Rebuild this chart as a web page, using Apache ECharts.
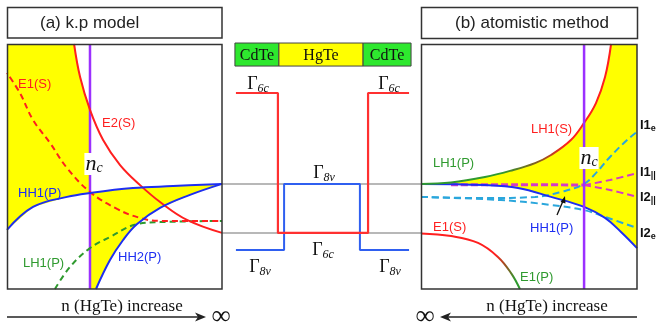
<!DOCTYPE html>
<html><head><meta charset="utf-8">
<script src="https://cdn.jsdelivr.net/npm/echarts@6/dist/echarts.min.js"></script>
<style>html,body{margin:0;padding:0;background:#fff}#c{width:656px;height:325px}</style>
</head><body><div id="c"></div>
<script>
// ---------- data (panel units: x 0-100 along n(HgTe), y 0-100 energy) ----------
// (a) k.p model
const kpNc = 38.6;
const kpE1S = [[0,88.2],[6.0,80.0],[12.1,69.0],[20.0,59.6],[27.9,49.4],[38.6,39.6],[51.2,32.7],[61.9,29.0],[71.2,27.8],[100,27.8]];
const kpE2S = [[31.2,100],[34.0,86.5],[38.6,73.1],[44.7,60.8],[52.6,50.6],[61.9,42.4],[71.2,35.5],[83.7,28.2],[100,22.9]];
const kpHH1 = [[0,24.1],[12.1,33.5],[27.9,37.6],[38.6,39.2],[58.6,41.2],[77.2,42.0],[100,42.9]];
const kpHH2 = [[41.4,0],[47.9,11.8],[54.0,20.0],[60.5,26.5],[71.2,33.1],[85.1,38.4],[100,42.9]];
const kpLH1 = [[22.3,0],[29.3,9.0],[38.6,16.7],[47.9,21.2],[60.5,26.5],[71.2,27.3],[100,27.8]];
// middle: quantum well band edges
const layers = [['CdTe',6.5,28.6,'#2ee82e'],['HgTe',28.6,70.9,'#ffff00'],['CdTe',70.9,95.0,'#2ee82e']];
const layerTop = 100.4, layerBottom = 91.0;
const bandG6c = [[7.0,80],[28.1,80],[28.1,22.9],[73.4,22.9],[73.4,80],[94.0,80]];
const bandG8v = [[7.0,15.9],[31.2,15.9],[31.2,42.9],[69.3,42.9],[69.3,15.9],[94.0,15.9]];
const guideUpper = [[0,42.9],[100,42.9]];
const guideLower = [[0,22.9],[100,22.9]];
// (b) atomistic method
const atNc = 75.5;
const atLH1 = [[0,42.9],[13.9,43.5],[29.6,45.7],[41.2,48.2],[52.8,51.4],[60.2,54.7],[69.4,60.8],[75.5,67.8],[81.0,75.9],[85.2,86.5],[88.0,100]];
const atHH1 = [[0,42.9],[29.6,42.4],[44.9,41.2],[60.2,37.6],[75.5,33.5],[85.2,29.0],[92.6,23.3],[100,16.7]];
const atI1e = [[0,37.6],[29.6,37.1],[52.8,37.6],[64.8,39.6],[75.5,42.9],[81.5,47.8],[87.5,53.9],[95.4,60.8],[100,64.1]];
const atI2e = [[0,37.6],[37.0,36.3],[60.2,34.3],[75.5,32.2],[85.2,29.4],[100,24.9]];
const atIhh = [[13.9,42.6],[45,42.6],[75.5,42.4]];
const atI1hh = [[75.5,42.4],[87.5,44.5],[100,47.3]];
const atI2hh = [[75.5,42.4],[87.5,40.4],[100,37.6]];
const atE1 = [[0,22.7],[13.9,21.6],[26.4,18.8],[35.6,13.1],[41.7,6.5],[45.8,0]];

// ---------- styling ----------
const RED='#ff1f1f', BLUE='#1d2ef2', GREEN='#2f9a2f', PURPLE='#9b30ff', CYAN='#2aa6dc',
      MAGENTA='#d43bc8', GRAY='#b8b8b8', YEL='#ffff00', BROWN='#8a5a22';
const SANS='"Liberation Sans", Arial, sans-serif', SERIF='"Liberation Serif", "Times New Roman", serif';

function ln(data, color, width, dash, gi, extra) {
  return Object.assign({type:'line', xAxisIndex:gi, yAxisIndex:gi, data, symbol:'none', smooth:0.4,
    silent:true, animation:false, lineStyle:{color, width, type: dash || 'solid'}}, extra || {});
}
function fill(pts, gi) {
  return {type:'custom', xAxisIndex:gi, yAxisIndex:gi, data:[0], silent:true, z:1, animation:false,
    renderItem:(p, api) => ({type:'polygon', shape:{points: pts.map(q => api.coord(q))}, style:{fill:YEL}})};
}
const upTo = (arr, x) => arr.filter(q => q[0] <= x);
const from = (arr, x) => arr.filter(q => q[0] >= x);

const kpFill1 = [[0,100]].concat(upTo(kpE2S, kpNc), upTo(kpHH1, kpNc).reverse());
const kpFill2 = from(kpHH1, kpNc).concat(kpHH2.slice().reverse(), [[kpNc,0]]);
const atFill = atLH1.concat([[100,100]], atHH1.slice().reverse());

const grad = (stops) => new echarts.graphic.LinearGradient(0,0,1,0, stops.map(s => ({offset:s[0], color:s[1]})));

const series = [
  // left panel
  fill(kpFill1, 0), fill(kpFill2, 0),
  ln([[kpNc,0],[kpNc,100]], PURPLE, 2.5, null, 0, {smooth:false}),
  ln(kpLH1, GREEN, 2, [6,4], 0),
  ln(kpE1S, RED, 2, [6,4], 0, {lineStyle:{color:RED, width:2, type:[6,4], dashOffset:5}}),
  ln(kpE2S, RED, 2, null, 0),
  ln(kpHH2, BLUE, 2, null, 0),
  ln(kpHH1, BLUE, 2, null, 0),
  // middle
  ln(guideUpper, GRAY, 2, null, 1, {smooth:false}),
  ln(guideLower, GRAY, 2, null, 1, {smooth:false}),
  {type:'custom', xAxisIndex:1, yAxisIndex:1, silent:true, animation:false,
    data: layers.map(l => [l[1], l[2]]),
    renderItem:(p, api) => {
      const l = layers[p.dataIndex];
      const a = api.coord([api.value(0), layerTop]), b = api.coord([api.value(1), layerBottom]);
      return {type:'group', children:[
        {type:'rect', shape:{x:a[0], y:a[1], width:b[0]-a[0], height:b[1]-a[1]}, style:{fill:l[3], stroke:'#444', lineWidth:1}},
        {type:'text', style:{text:l[0], x:(a[0]+b[0])/2, y:(a[1]+b[1])/2 + 1, align:'center', verticalAlign:'middle', font:'16px ' + SERIF, fill:'#111'}}
      ]};
    }},
  ln(bandG8v, '#2f5ff0', 2, null, 1, {smooth:false}),
  ln(bandG6c, '#ff3030', 2.2, null, 1, {smooth:false}),
  // right panel
  fill(atFill, 2),
  ln(atI2e, CYAN, 2, [7,4], 2),
  ln(atI1e, CYAN, 2, [7,4], 2),
  ln(atIhh, MAGENTA, 3, [7,3], 2),
  ln(atI1hh, MAGENTA, 2, [7,4], 2),
  ln(atI2hh, MAGENTA, 2, [7,4], 2),
  ln(atHH1, BLUE, 2, null, 2),
  ln(atLH1, RED, 2, null, 2, {lineStyle:{width:2, color: grad([[0,GREEN],[0.42,GREEN],[0.62,BROWN],[0.76,RED],[1,RED]])}}),
  ln(atE1, RED, 2, null, 2, {lineStyle:{width:2, color: grad([[0,RED],[0.74,RED],[0.85,BROWN],[0.93,GREEN],[1,GREEN]])}}),
  ln([[atNc,0],[atNc,100]], PURPLE, 2.5, null, 2, {smooth:false})
];

// ---------- annotations ----------
const T = (text, x, y, color, opt) => Object.assign({type:'text', z:100, silent:true,
  style:Object.assign({text, x, y, fill:color, font:'13px ' + SANS, align:'left', verticalAlign:'middle'}, (opt||{}).style || {})}, (opt||{}).el || {});
const gam = (main, sub, x, y) => ({type:'text', z:100, silent:true, style:{text:'{m|' + main + '}{s|' + sub + '}', x, y, align:'center', verticalAlign:'middle',
  rich:{m:{font:'18px ' + SERIF, fill:'#111'}, s:{font:'italic 12px ' + SERIF, fill:'#111', padding:[9,0,0,0]}}}});
const nc = (x, y) => ({type:'text', z:100, silent:true, style:{text:'{n|n}{c|c}', x, y, align:'center', verticalAlign:'middle',
  backgroundColor:'#fff', padding:[0,1,0,1],
  rich:{n:{font:'italic 22px ' + SERIF, fill:'#111'}, c:{font:'italic 14px ' + SERIF, fill:'#111', padding:[8,0,0,0]}}}});
const isub = (main, sub, x, y) => ({type:'text', z:100, silent:true, style:{text:'{m|' + main + '}{s|' + sub + '}', x, y, align:'left', verticalAlign:'middle',
  rich:{m:{font:'bold 13px ' + SANS, fill:'#111'}, s:{font:'bold 9px ' + SANS, fill:'#111', padding:[8,0,0,0]}}}});
const box = (x, y, w, h) => ({type:'rect', z:90, silent:true, shape:{x, y, width:w, height:h}, style:{fill:'none', stroke:'#333', lineWidth:1.5}});
const arrowHead = (tipX, y, dir) => ({type:'polygon', z:100, silent:true,
  shape:{points:[[tipX,y],[tipX - dir*11, y-4.5],[tipX - dir*8, y],[tipX - dir*11, y+4.5]]}, style:{fill:'#222'}});

const graphic = [
  box(7.5, 7.5, 214.5, 30.5), box(421.5, 7.5, 216, 31),
  box(7.5, 44.5, 214.5, 244.5), box(421.5, 44.5, 215.5, 244.5),
  T('(a) k.p model', 40, 23, '#222', {style:{font:'17px ' + SANS}}),
  T('(b) atomistic method', 532, 23, '#222', {style:{font:'17px ' + SANS, align:'center'}}),
  T('E1(S)', 18, 84, RED), T('E2(S)', 102, 123, RED), T('HH1(P)', 18, 193, BLUE),
  T('HH2(P)', 118, 257, BLUE), T('LH1(P)', 23, 263, GREEN),
  nc(94, 164), nc(589, 158),
  T('LH1(S)', 531, 129, RED), T('LH1(P)', 433, 163, GREEN), T('E1(S)', 433, 227, RED),
  T('HH1(P)', 530, 228, BLUE), T('E1(P)', 520, 277, GREEN),
  isub('I1', 'e', 640, 125), isub('I1', '||', 640, 172), isub('I2', '||', 640, 197), isub('I2', 'e', 640, 233),
  {type:'line', z:100, silent:true, shape:{x1:557, y1:215, x2:563, y2:201}, style:{stroke:'#111', lineWidth:1.3}},
  {type:'polygon', z:100, silent:true, shape:{points:[[565,196],[560.5,202],[565.5,203.5]]}, style:{fill:'#111'}},
  gam('Γ', '6c', 258, 84), gam('Γ', '6c', 389, 84), gam('Γ', '8v', 324, 173),
  gam('Γ', '6c', 323, 250), gam('Γ', '8v', 260, 267), gam('Γ', '8v', 390, 267),
  T('n (HgTe) increase', 122, 307, '#111', {style:{font:'17px ' + SERIF, align:'center'}}),
  T('n (HgTe) increase', 547, 307, '#111', {style:{font:'17px ' + SERIF, align:'center'}}),
  {type:'line', z:100, silent:true, shape:{x1:7, y1:317, x2:200, y2:317}, style:{stroke:'#222', lineWidth:1.5}},
  arrowHead(206, 317, 1),
  {type:'line', z:100, silent:true, shape:{x1:446, y1:317, x2:637, y2:317}, style:{stroke:'#222', lineWidth:1.5}},
  arrowHead(440, 317, -1),
  T('∞', 221, 317, '#111', {style:{font:'27px ' + SERIF, align:'center'}}),
  T('∞', 425, 317, '#111', {style:{font:'27px ' + SERIF, align:'center'}})
];

const chart = echarts.init(document.getElementById('c'));
chart.setOption({
  animation:false,
  grid:[
    {left:7, top:44, width:215, height:245, show:false},
    {left:222, top:44, width:199, height:245, show:false},
    {left:421, top:44, width:216, height:245, show:false}
  ],
  xAxis:[0,1,2].map(i => ({type:'value', gridIndex:i, min:0, max:100, show:false})),
  yAxis:[0,1,2].map(i => ({type:'value', gridIndex:i, min:0, max:100, show:false})),
  series,
  graphic
});
</script></body></html>
